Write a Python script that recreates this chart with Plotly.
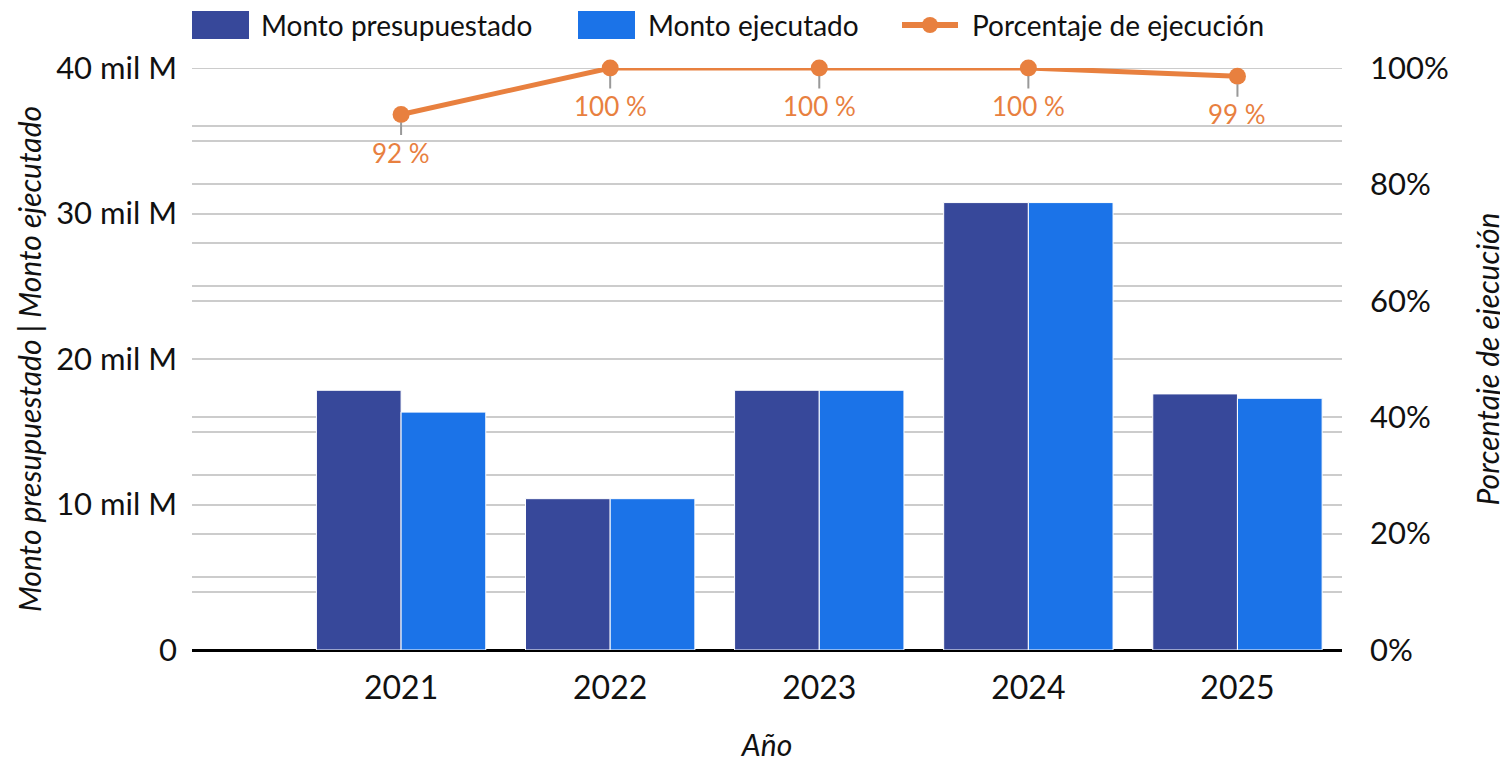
import plotly.graph_objects as go

years = ["2021", "2022", "2023", "2024", "2025"]
monto_presupuestado = [17.85, 10.4, 17.85, 30.75, 17.6]
monto_ejecutado = [16.35, 10.4, 17.85, 30.75, 17.3]
porcentaje = [0.92, 1.00, 1.00, 1.00, 0.986]
porcentaje_labels = ["92 %", "100 %", "100 %", "100 %", "99 %"]
y_tickvals = [0, 10, 20, 30, 40]
y_ticktext = ["0", "10 mil M", "20 mil M", "30 mil M", "40 mil M"]
series_names = ["Monto presupuestado", "Monto ejecutado", "Porcentaje de ejecución"]

C_PRES = "#37489a"
C_EJEC = "#1b73e8"
C_PCT = "#e8803f"
FONT = "Lato"
TXT = "#111111"
GRID = "#cccccc"

# the page body has an 8px margin; compensate so the plot area lands at these page pixels
OFF = 8
L, R, T, B = 192, 1342, 68, 650
W, H = 1508 - OFF, 762 - OFF
def px(x):
    return (x - L) / (R - L)
def py(y):
    return (B - y) / (B - T)

fig = go.Figure()
fig.add_trace(go.Bar(x=years, y=monto_presupuestado, name=series_names[0],
                     marker=dict(color=C_PRES, line=dict(color="white", width=1))))
fig.add_trace(go.Bar(x=years, y=monto_ejecutado, name=series_names[1],
                     marker=dict(color=C_EJEC, line=dict(color="white", width=1))))
fig.add_trace(go.Scatter(x=years, y=porcentaje, name=series_names[2], yaxis="y2",
                         mode="lines+markers", line=dict(color=C_PCT, width=5),
                         marker=dict(color=C_PCT, size=17), cliponaxis=False))

for i, (p, lab) in enumerate(zip(porcentaje, porcentaje_labels)):
    fig.add_annotation(x=i, y=p, xref="x", yref="y2", text=lab, showarrow=True, arrowhead=0,
                       arrowcolor="#999999", arrowwidth=2, ax=0, ay=38, standoff=8,
                       font=dict(family=FONT, size=26, color=C_PCT))

# top gridline (plotly skips gridlines lying on the plot edge)
fig.add_shape(type="line", xref="paper", yref="y", x0=0, x1=1, y0=y_tickvals[-1], y1=y_tickvals[-1],
              line=dict(color=GRID, width=2), layer="below")

# legend (drawn manually to match the large swatches)
fig.add_shape(type="rect", xref="paper", yref="paper", x0=px(192), x1=px(249), y0=py(39), y1=py(11),
              fillcolor=C_PRES, line=dict(width=0))
fig.add_shape(type="rect", xref="paper", yref="paper", x0=px(578), x1=px(635), y0=py(39), y1=py(11),
              fillcolor=C_EJEC, line=dict(width=0))
fig.add_shape(type="line", xref="paper", yref="paper", x0=px(902), x1=px(958), y0=py(25), y1=py(25),
              line=dict(color=C_PCT, width=6))
fig.add_shape(type="circle", xref="paper", yref="paper", x0=px(922), x1=px(938), y0=py(33), y1=py(17),
              fillcolor=C_PCT, line=dict(width=0))
for xpos, name in zip([259, 646, 970], series_names):
    fig.add_annotation(xref="paper", yref="paper", x=px(xpos), y=py(25), text=name, showarrow=False,
                       xanchor="left", yanchor="middle", font=dict(family=FONT, size=28, color=TXT))

fig.update_layout(
    width=W, height=H,
    margin=dict(l=L - OFF, r=W - (R - OFF), t=T - OFF, b=H - (B - OFF)),
    plot_bgcolor="white", paper_bgcolor="white",
    font=dict(family=FONT, size=30, color=TXT),
    barmode="group", bargap=0.19, bargroupgap=0,
    showlegend=False,
    xaxis=dict(type="category", range=[-1, 4.5], showgrid=False, ticks="", automargin=False,
               ticklabelstandoff=16, tickfont=dict(size=32),
               title=dict(text="<i>Año</i>", font=dict(size=30), standoff=30)),
    yaxis=dict(range=[0, 40], tickvals=y_tickvals, ticktext=y_ticktext, automargin=False,
               showgrid=True, gridcolor=GRID, gridwidth=2,
               minor=dict(dtick=5, showgrid=True, gridcolor=GRID, gridwidth=2),
               zeroline=True, zerolinecolor="black", zerolinewidth=3,
               ticks="", ticklabelstandoff=14, tickfont=dict(size=31),
               title=dict(text="<i>Monto presupuestado | Monto ejecutado</i>", font=dict(size=30), standoff=5)),
    yaxis2=dict(range=[0, 1], overlaying="y", side="right", tickformat=".0%", automargin=False,
                dtick=0.2, tick0=0, showgrid=True, gridcolor=GRID, gridwidth=2,
                minor=dict(dtick=0.1, showgrid=True, gridcolor=GRID, gridwidth=2),
                zeroline=False, ticks="", ticklabelstandoff=27, tickfont=dict(size=31),
                title=dict(text="<i>Porcentaje de ejecución</i>", font=dict(size=30), standoff=30)),
)

fig.write_html("out.html")
